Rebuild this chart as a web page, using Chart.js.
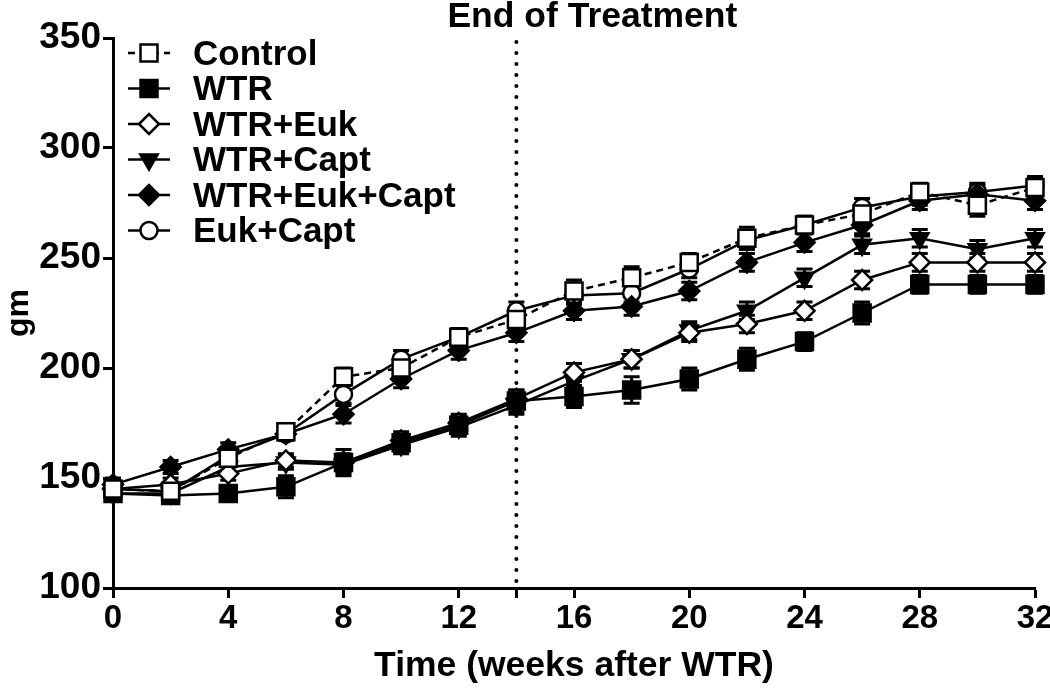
<!DOCTYPE html>
<html><head><meta charset="utf-8">
<script src="https://cdn.jsdelivr.net/npm/chart.js@4/dist/chart.umd.min.js"></script>
<style>html,body{margin:0;padding:0;background:#fff}#wrap{width:1050px;height:688px}</style>
</head><body><div id="wrap"><canvas id="c" width="1050" height="688"></canvas></div>
<script>
// ---- data ----
const weeks = [0, 2, 4, 6, 8, 10, 12, 14, 16, 18, 20, 22, 24, 26, 28, 30, 32];
const seriesLabels = ['Control', 'WTR', 'WTR+Euk', 'WTR+Capt', 'WTR+Euk+Capt', 'Euk+Capt'];
const controlVals   = [145, 144, 159, 171, 196, 200, 214, 222, 235, 241, 248, 259, 265, 270, 280, 274, 282];
const wtrVals       = [143, 142, 143, 146, 157, 166, 174, 185, 187, 190, 195, 204, 212, 225, 238, 238, 238];
const wtrEukVals    = [145, 147, 152, 158, 157, 167, 175, 186, 198, 204, 216, 220, 226, 240, 248, 248, 248];
const wtrCaptVals   = [143, 143, 155, 157, 156, 165, 173, 183, 194, 204, 217, 226, 241, 256, 259, 254, 259];
const wtrEukCaptVals= [147, 155, 163, 170, 179, 195, 208, 216, 226, 228, 235, 248, 257, 265, 276, 279, 276];
const eukCaptVals   = [145, 144, 160, 170, 188, 204, 214, 226, 233, 234, 245, 258, 265, 273, 278, 280, 283];
const controlErr    = [3, 3, 3, 3, 4, 4, 4, 4, 5, 5, 4, 5, 4, 4, 4, 5, 4];
const wtrErr        = [3, 2, 2, 5, 6, 4, 4, 5, 5, 6, 5, 5, 4, 5, 4, 4, 4];
const wtrEukErr     = [3, 3, 3, 3, 4, 4, 4, 4, 4, 4, 4, 4, 4, 4, 4, 4, 4];
const wtrCaptErr    = [3, 3, 3, 3, 4, 4, 4, 4, 4, 4, 4, 4, 4, 4, 4, 4, 4];
const wtrEukCaptErr = [3, 3, 3, 3, 4, 4, 4, 4, 4, 4, 4, 4, 4, 4, 4, 4, 4];
const eukCaptErr    = [3, 3, 3, 3, 4, 4, 4, 4, 4, 4, 4, 4, 4, 4, 4, 4, 4];
const xTickValues = [0, 4, 8, 12, 14, 16, 20, 24, 28, 32];
const yMin = 100, yMax = 350, yStep = 50;
const treatmentEnd = 14;
const annotationText = 'End of Treatment';
const xTitle = 'Time (weeks after WTR)';
const yTitle = 'gm';

const FONT = "'Liberation Sans', Arial, sans-serif";
const seriesVals = [controlVals, wtrVals, wtrEukVals, wtrCaptVals, wtrEukCaptVals, eukCaptVals];
const seriesErr = [controlErr, wtrErr, wtrEukErr, wtrCaptErr, wtrEukCaptErr, eukCaptErr];
const styles = [
  {ps: 'rect', r: 12, fill: '#fff', rot: 0, dash: [7, 5]},
  {ps: 'rect', r: 12, fill: '#000', rot: 0, dash: []},
  {ps: 'rectRot', r: 10, fill: '#fff', rot: 0, dash: []},
  {ps: 'triangle', r: 10, fill: '#000', rot: 180, dash: []},
  {ps: 'rectRot', r: 10, fill: '#000', rot: 0, dash: []},
  {ps: 'circle', r: 8.5, fill: '#fff', rot: 0, dash: []}
];

const datasets = seriesLabels.map((lab, i) => ({
  label: lab,
  data: weeks.map((w, j) => ({x: w, y: seriesVals[i][j]})),
  errors: seriesErr[i],
  borderColor: '#000',
  borderWidth: 2.5,
  borderDash: styles[i].dash,
  pointStyle: styles[i].ps,
  pointRadius: styles[i].r,
  pointRotation: styles[i].rot,
  pointBackgroundColor: styles[i].fill,
  pointBorderColor: '#000',
  pointBorderWidth: 2.5,
  pointHoverRadius: styles[i].r,
  tension: 0,
  fill: false,
  clip: false
}));

const errorBars = {
  id: 'errorBars',
  beforeDatasetsDraw(chart) {
    const ctx = chart.ctx, xs = chart.scales.x, ys = chart.scales.y;
    ctx.save();
    ctx.strokeStyle = '#000';
    ctx.lineWidth = 3;
    chart.data.datasets.forEach(ds => {
      ds.data.forEach((p, j) => {
        const e = ds.errors[j];
        const x = xs.getPixelForValue(p.x);
        const y1 = ys.getPixelForValue(p.y + e), y2 = ys.getPixelForValue(p.y - e);
        ctx.beginPath();
        ctx.moveTo(x, y1); ctx.lineTo(x, y2);
        ctx.moveTo(x - 8, y1); ctx.lineTo(x + 8, y1);
        ctx.moveTo(x - 8, y2); ctx.lineTo(x + 8, y2);
        ctx.stroke();
      });
    });
    ctx.restore();
  }
};

const treatmentLine = {
  id: 'treatmentLine',
  beforeDatasetsDraw(chart) {
    const ctx = chart.ctx, xs = chart.scales.x, a = chart.chartArea;
    const x = xs.getPixelForValue(treatmentEnd);
    ctx.save();
    ctx.strokeStyle = '#000';
    ctx.lineWidth = 4;
    ctx.lineCap = 'round';
    ctx.setLineDash([0, 11]);
    ctx.beginPath();
    ctx.moveTo(x, a.top + 4); ctx.lineTo(x, a.bottom);
    ctx.stroke();
    ctx.restore();
  },
  afterDraw(chart) {
    const ctx = chart.ctx, xs = chart.scales.x;
    const x = xs.getPixelForValue(treatmentEnd);
    ctx.save();
    ctx.fillStyle = '#000';
    ctx.font = 'bold 35.5px ' + FONT;
    ctx.textAlign = 'center';
    ctx.textBaseline = 'alphabetic';
    ctx.fillText(annotationText, x + 76, 27);
    ctx.restore();
  }
};

const legendPlugin = {
  id: 'customLegend',
  afterDraw(chart) {
    const ctx = chart.ctx, a = chart.chartArea;
    const x0 = a.left + 15, y0 = a.top + 15, step = 35.5;
    ctx.save();
    chart.data.datasets.forEach((ds, i) => {
      const y = y0 + i * step;
      ctx.strokeStyle = '#000';
      ctx.lineWidth = 2.5;
      ctx.setLineDash(ds.borderDash || []);
      ctx.beginPath(); ctx.moveTo(x0, y); ctx.lineTo(x0 + 42, y); ctx.stroke();
      ctx.setLineDash([]);
      ctx.fillStyle = ds.pointBackgroundColor;
      ctx.lineWidth = 2.5;
      Chart.helpers.drawPoint(ctx, {pointStyle: ds.pointStyle, rotation: ds.pointRotation, radius: ds.pointRadius, borderWidth: 2.5}, x0 + 21, y);
      ctx.fillStyle = '#000';
      ctx.font = 'bold 35px ' + FONT;
      ctx.textAlign = 'left';
      ctx.textBaseline = 'middle';
      ctx.fillText(ds.label, x0 + 65, y + 2);
    });
    ctx.restore();
  }
};

new Chart(document.getElementById('c'), {
  type: 'line',
  data: {datasets},
  plugins: [errorBars, treatmentLine, legendPlugin],
  options: {
    responsive: false,
    animation: false,
    devicePixelRatio: 1,
    layout: {padding: {left: 0, top: 38, right: 15, bottom: 0}},
    plugins: {legend: {display: false}, tooltip: {enabled: false}, title: {display: false}},
    scales: {
      x: {
        type: 'linear', min: 0, max: 32,
        afterBuildTicks(s) { s.ticks = xTickValues.map(v => ({value: v})); },
        afterFit(s) { s.height = 100; s.paddingLeft = 0; s.paddingRight = 0; },
        ticks: {
          color: '#000', padding: 1, maxRotation: 0, autoSkip: false,
          font: {family: FONT, size: 33, weight: 'bold'},
          callback: v => (v === treatmentEnd ? '' : String(v))
        },
        grid: {drawOnChartArea: false, drawTicks: true, tickLength: 10, tickWidth: 3, tickColor: '#000', color: '#000'},
        border: {display: true, color: '#000', width: 3},
        title: {display: true, text: xTitle, color: '#000', font: {family: FONT, size: 35.5, weight: 'bold'}, padding: {top: 0, bottom: 0}}
      },
      y: {
        type: 'linear', min: yMin, max: yMax,
        ticks: {stepSize: yStep, color: '#000', padding: 2, font: {family: FONT, size: 37, weight: 'bold'}},
        afterFit(s) { s.width = 113; s.paddingTop = 0; s.paddingBottom = 0; },
        grid: {drawOnChartArea: false, drawTicks: true, tickLength: 10, tickWidth: 3, tickColor: '#000', color: '#000'},
        border: {display: true, color: '#000', width: 3},
        title: {display: true, text: yTitle, color: '#000', font: {family: FONT, size: 32, weight: 'bold'}, padding: {top: 0, bottom: 0}}
      }
    }
  }
});
</script>
</body></html>
